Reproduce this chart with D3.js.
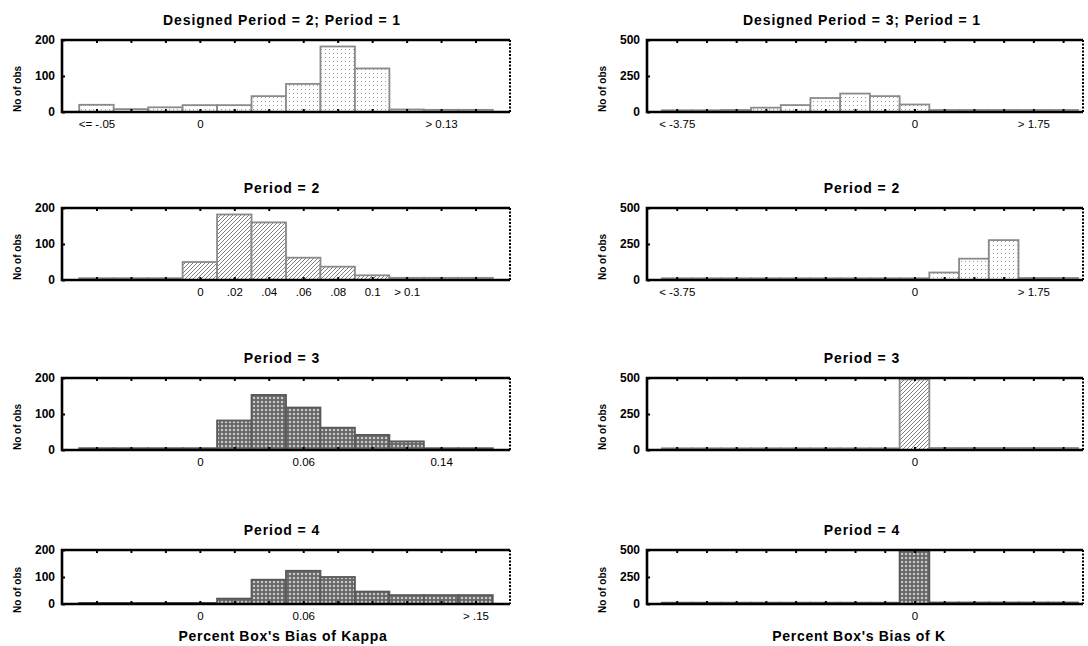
<!DOCTYPE html>
<html>
<head>
<meta charset="utf-8">
<script src="https://cdn.jsdelivr.net/npm/d3@7"></script>
<style>
body { margin: 0; background: #fff; }
svg { font-family: "Liberation Sans", Arial, sans-serif; }
</style>
</head>
<body>
<div id="vis"></div>
<script>
const FRAME_WIDTH = 1088;
const FRAME_HEIGHT = 646;

// histogram classes (bin numbers) of each column
const kappaBins = [1, 2, 3, 4, 5, 6, 7, 8, 9, 10, 11, 12];
const kBins = [1, 2, 3, 4, 5, 6, 7, 8, 9, 10, 11, 12, 13, 14];

// counts per bin, bias of kappa (designed period = 2)
const kappaPeriod1 = [20, 8, 13, 19, 19, 44, 78, 182, 121, 7, 6, 6];
const kappaPeriod2 = [5, 5, 5, 50, 182, 160, 62, 37, 13, 6, 6, 6];
const kappaPeriod3 = [5, 5, 5, 5, 82, 153, 118, 62, 42, 24, 5, 5];
const kappaPeriod4 = [4, 4, 4, 4, 20, 90, 123, 100, 46, 33, 33, 33];

// counts per bin, bias of K (designed period = 3)
const kPeriod1 = [12, 12, 14, 30, 48, 97, 128, 110, 52, 14, 14, 14, 14, 14];
const kPeriod2 = [12, 12, 12, 12, 12, 12, 12, 12, 12, 52, 148, 277, 14, 14];
const kPeriod3 = [12, 12, 12, 12, 12, 12, 12, 12, 490, 14, 14, 14, 14, 14];
const kPeriod4 = [12, 12, 12, 12, 12, 12, 12, 12, 500, 14, 14, 14, 14, 14];

// labelled bins and their labels
const kappaTicks1 = [1, 4, 11];
const kappaLabels1 = ["<= -.05", "0", "> 0.13"];
const kappaTicks2 = [4, 5, 6, 7, 8, 9, 10];
const kappaLabels2 = ["0", ".02", ".04", ".06", ".08", "0.1", "> 0.1"];
const kappaTicks3 = [4, 7, 11];
const kappaLabels3 = ["0", "0.06", "0.14"];
const kappaTicks4 = [4, 7, 12];
const kappaLabels4 = ["0", "0.06", "> .15"];
const kTicks12 = [1, 9, 13];
const kLabels12 = ["< -3.75", "0", "> 1.75"];
const kTicks34 = [9];
const kLabels34 = ["0"];

const titles = ["Period = 1", "Period = 2", "Period = 3", "Period = 4"];
const yTicksKappa = [0, 100, 200];
const yTicksK = [0, 250, 500];

// layout
const ROWS = [
	{top: 40, bottom: 112},
	{top: 208, bottom: 280},
	{top: 378, bottom: 450},
	{top: 550, bottom: 604}
];
const COLS = [
	{left: 62, right: 510, domain: [0, 13], titleX: 282, ylabX: 17, axisTitle: "Percent Box's Bias of Kappa", axisX: 283},
	{left: 647, right: 1083, domain: [0, 14.67], titleX: 862, ylabX: 602, axisTitle: "Percent Box's Bias of K", axisX: 859}
];

const panels = [
	{col: 0, row: 0, title: "Designed Period = 2; " + titles[0], bins: kappaBins, values: kappaPeriod1, ticks: kappaTicks1, labels: kappaLabels1, yTicks: yTicksKappa, fill: "dots"},
	{col: 0, row: 1, title: titles[1], bins: kappaBins, values: kappaPeriod2, ticks: kappaTicks2, labels: kappaLabels2, yTicks: yTicksKappa, fill: "hatch"},
	{col: 0, row: 2, title: titles[2], bins: kappaBins, values: kappaPeriod3, ticks: kappaTicks3, labels: kappaLabels3, yTicks: yTicksKappa, fill: "dense"},
	{col: 0, row: 3, title: titles[3], bins: kappaBins, values: kappaPeriod4, ticks: kappaTicks4, labels: kappaLabels4, yTicks: yTicksKappa, fill: "dense"},
	{col: 1, row: 0, title: "Designed Period = 3; " + titles[0], bins: kBins, values: kPeriod1, ticks: kTicks12, labels: kLabels12, yTicks: yTicksK, fill: "dots"},
	{col: 1, row: 1, title: titles[1], bins: kBins, values: kPeriod2, ticks: kTicks12, labels: kLabels12, yTicks: yTicksK, fill: "dots"},
	{col: 1, row: 2, title: titles[2], bins: kBins, values: kPeriod3, ticks: kTicks34, labels: kLabels34, yTicks: yTicksK, fill: "hatch"},
	{col: 1, row: 3, title: titles[3], bins: kBins, values: kPeriod4, ticks: kTicks34, labels: kLabels34, yTicks: yTicksK, fill: "dense"}
];

const FRAME = d3.select("#vis")
	.append("svg")
		.attr("width", FRAME_WIDTH)
		.attr("height", FRAME_HEIGHT);

// fill patterns
const defs = FRAME.append("defs");

const dots = defs.append("pattern").attr("id", "dots")
	.attr("patternUnits", "userSpaceOnUse").attr("width", 4).attr("height", 4);
dots.append("rect").attr("width", 4).attr("height", 4).attr("fill", "#fff");
dots.append("rect").attr("x", 1).attr("y", 1).attr("width", 1).attr("height", 1).attr("fill", "#9a9a9a");

const hatch = defs.append("pattern").attr("id", "hatch")
	.attr("patternUnits", "userSpaceOnUse").attr("width", 4).attr("height", 4);
hatch.append("rect").attr("width", 4).attr("height", 4).attr("fill", "#fff");
hatch.append("path").attr("d", "M-1,1 l2,-2 M0,4 l4,-4 M3,5 l2,-2")
	.attr("stroke", "#6f6f6f").attr("stroke-width", 0.9);

const dense = defs.append("pattern").attr("id", "dense")
	.attr("patternUnits", "userSpaceOnUse").attr("width", 4).attr("height", 4);
dense.append("rect").attr("width", 4).attr("height", 4).attr("fill", "#666");
dense.append("path").attr("d", "M2,0.8 v2.4 M0.8,2 h2.4")
	.attr("stroke", "#fff").attr("stroke-width", 0.8);

panels.forEach(function (p) {
	const col = COLS[p.col];
	const row = ROWS[p.row];

	const x = d3.scaleLinear().domain(col.domain).range([col.left, col.right]);
	const y = d3.scaleLinear().domain([0, d3.max(p.yTicks)]).range([row.bottom, row.top]);

	const g = FRAME.append("g");

	// bars
	const data = p.values.map(function (v, i) { return {bin: p.bins[i], value: v}; });
	g.selectAll(".bar")
		.data(data)
		.enter()
		.append("rect")
		.attr("class", "bar")
		.attr("x", function (d) { return x(d.bin - 0.5); })
		.attr("y", function (d) { return y(d.value); })
		.attr("width", function (d) { return x(d.bin + 0.5) - x(d.bin - 0.5); })
		.attr("height", function (d) { return y(0) - y(d.value); })
		.attr("fill", "url(#" + p.fill + ")")
		.attr("stroke", p.fill == "dense" ? "#595959" : "#8a8a8a")
		.attr("stroke-width", 1.8);

	// inner tick marks on top and bottom edge
	g.append("g")
		.attr("transform", "translate(0," + row.top + ")")
		.call(d3.axisBottom(x).tickValues(p.bins).tickSize(3).tickFormat(""))
		.call(a => a.select(".domain").remove())
		.selectAll("line").attr("stroke-width", 2);
	g.append("g")
		.attr("transform", "translate(0," + row.bottom + ")")
		.call(d3.axisTop(x).tickValues(p.bins).tickSize(3).tickFormat(""))
		.call(a => a.select(".domain").remove())
		.selectAll("line").attr("stroke-width", 2);

	// x labels
	g.append("g")
		.attr("transform", "translate(0," + row.bottom + ")")
		.call(d3.axisBottom(x).tickValues(p.ticks).tickSize(0).tickPadding(7.5)
			.tickFormat(function (d, i) { return p.labels[i]; }))
		.call(a => a.select(".domain").remove())
		.selectAll("text")
			.attr("font-size", "11.5px")
			.attr("font-family", "Liberation Sans, Arial, sans-serif")
			.attr("fill", "#000");

	// y axis
	g.append("g")
		.attr("transform", "translate(" + col.left + ",0)")
		.call(d3.axisLeft(y).tickValues(p.yTicks).tickSize(-3).tickPadding(7))
		.call(a => a.select(".domain").remove())
		.call(a => a.selectAll("line").attr("stroke-width", 2))
		.selectAll("text")
			.attr("font-size", "12px")
			.attr("font-weight", "bold")
			.attr("font-family", "Liberation Sans, Arial, sans-serif")
			.attr("fill", "#000");

	// frame: solid left, top, bottom; dotted right
	g.append("path")
		.attr("d", "M" + col.right + "," + row.top + "H" + col.left + "V" + row.bottom + "H" + col.right)
		.attr("fill", "none")
		.attr("stroke", "#000")
		.attr("stroke-width", 2.6);
	g.append("line")
		.attr("x1", col.right).attr("x2", col.right)
		.attr("y1", row.top).attr("y2", row.bottom)
		.attr("stroke", "#000")
		.attr("stroke-width", 2)
		.attr("stroke-dasharray", "2,1.5");

	// title
	g.append("text")
		.attr("x", col.titleX)
		.attr("y", row.top - 15)
		.attr("text-anchor", "middle")
		.attr("font-size", "14px")
		.attr("font-weight", "bold")
		.attr("letter-spacing", "0.9px")
		.text(p.title);

	// y label
	g.append("text")
		.attr("transform", "translate(" + (col.ylabX + 4) + "," + ((row.top + row.bottom) / 2 + 13) + ") rotate(-90)")
		.attr("text-anchor", "middle")
		.attr("font-size", "10px")
		.attr("font-weight", "bold")
		.text("No of obs");
});

// axis titles under the last row
COLS.forEach(function (col) {
	FRAME.append("text")
		.attr("x", col.axisX)
		.attr("y", 641)
		.attr("text-anchor", "middle")
		.attr("font-size", "14px")
		.attr("font-weight", "bold")
		.attr("letter-spacing", "0.7px")
		.text(col.axisTitle);
});
</script>
</body>
</html>
